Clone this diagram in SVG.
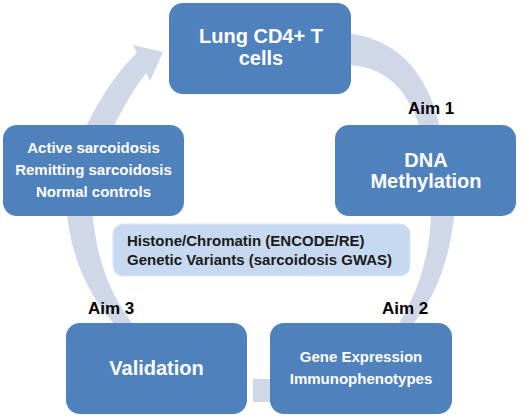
<svg xmlns="http://www.w3.org/2000/svg" width="529" height="420" viewBox="0 0 529 420">
<style>
.arc{fill:#d0d8e8;stroke:none}
.node{fill:#4f81bd;stroke:none}
.nt{font-family:"Liberation Sans",Arial,sans-serif;font-weight:bold;fill:#ffffff;text-anchor:middle}
.aim{font-family:"Liberation Sans",Arial,sans-serif;font-weight:bold;font-size:17px;fill:#000000}
.mid{font-family:"Liberation Sans",Arial,sans-serif;font-weight:bold;font-size:15px;fill:#1a1a1a}
</style>
<rect width="529" height="420" fill="#ffffff"/>
<g id="connectors">
<path class="arc" d="M84,130 Q110,78 136.7,52.9 L133,45 L163,52 L150,81 L146.3,73.1 Q130,93 112,130 Z"/>
<path class="arc" d="M345,33 Q420,40 440,128 L420,128 Q400,65 345,65 Z"/>
<path class="arc" d="M455,205 Q450,280 412,325 L398,325 Q432,270 431,205 Z"/>
<rect class="arc" x="253" y="379" width="18" height="23"/>
<path class="arc" d="M66,205 Q72,280 118,328 L136,328 Q96,280 92,205 Z"/>
</g>
<g id="aims">
<text class="aim" x="408" y="114">Aim 1</text>
<text class="aim" x="382" y="314">Aim 2</text>
<text class="aim" x="88" y="314">Aim 3</text>
</g>
<g id="node-lung">
<rect class="node" x="169" y="3" width="182" height="91" rx="14"/>
<text class="nt" font-size="20" x="261" y="43">Lung CD4+ T</text>
<text class="nt" font-size="20" x="261" y="65">cells</text>
</g>
<g id="node-dna">
<rect class="node" x="335" y="125" width="181" height="91" rx="14"/>
<text class="nt" font-size="20" x="426" y="167">DNA</text>
<text class="nt" font-size="20" x="426" y="188">Methylation</text>
</g>
<g id="node-gene">
<rect class="node" x="270" y="323" width="182" height="91" rx="14"/>
<text class="nt" font-size="15" x="361" y="362">Gene Expression</text>
<text class="nt" font-size="15" x="361" y="384">Immunophenotypes</text>
</g>
<g id="node-validation">
<rect class="node" x="66" y="323" width="181" height="91" rx="14"/>
<text class="nt" font-size="20" x="156.5" y="375">Validation</text>
</g>
<g id="node-cohort">
<rect class="node" x="3" y="125" width="181" height="91" rx="14"/>
<text class="nt" font-size="15" x="93.5" y="153">Active sarcoidosis</text>
<text class="nt" font-size="15" x="93.5" y="175">Remitting sarcoidosis</text>
<text class="nt" font-size="15" x="93.5" y="197">Normal controls</text>
</g>
<g id="node-data">
<rect x="113" y="224" width="297" height="52" rx="10" fill="#c6d9f1" stroke="#dbe5f1" stroke-width="1"/>
<text class="mid" x="127" y="246">Histone/Chromatin (ENCODE/RE)</text>
<text class="mid" x="127" y="265">Genetic Variants (sarcoidosis GWAS)</text>
</g>
</svg>
